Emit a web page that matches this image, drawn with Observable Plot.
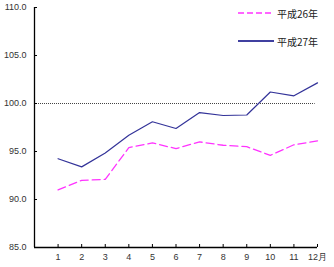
<!DOCTYPE html>
<html><head><meta charset="utf-8">
<script src="https://cdn.jsdelivr.net/npm/d3@7"></script>
<script src="https://cdn.jsdelivr.net/npm/@observablehq/plot@0.6"></script>
<style>
body{margin:0;background:#fff;}
#wrap{position:relative;width:334px;height:267px;}
#legend{position:absolute;left:238px;top:5px;font:10px "Noto Sans CJK JP",sans-serif;color:#222;}
.row{display:flex;align-items:center;height:16px;margin-bottom:12px;}
.row svg{margin-right:3px;}
</style></head>
<body><div id="wrap"><div id="legend"></div></div>
<script>
const months = [1,2,3,4,5,6,7,8,9,10,11,12];
const monthLabels = ["1","2","3","4","5","6","7","8","9","10","11","12月"];
const h26 = [91.0, 92.0, 92.1, 95.4, 95.9, 95.3, 96.0, 95.65, 95.5, 94.6, 95.7, 96.1];
const h27 = [94.25, 93.4, 94.85, 96.7, 98.1, 97.4, 99.05, 98.75, 98.8, 101.2, 100.8, 102.15];
const seriesNames = ["平成26年", "平成27年"];
const yTicks = [85, 90, 95, 100, 105, 110];
const baseline = 100;

const d26 = months.map((m,i)=>({m, v:h26[i]}));
const d27 = months.map((m,i)=>({m, v:h27[i]}));
const c26 = "#ff33ff", c27 = "#333399";

const chart = Plot.plot({
  width: 334, height: 267,
  marginLeft: 34, marginRight: 17, marginTop: 7, marginBottom: 20,
  style: {fontFamily: "Liberation Sans, Arial, sans-serif", fontSize: "9px", color: "#333", background: "#fff"},
  x: {domain: [0, 12]},
  y: {domain: [85, 110]},
  marks: [
    Plot.ruleY([baseline], {x1: 0, x2: 11.9, stroke: "#444", strokeDasharray: "1,1", strokeWidth: 1}),
    Plot.line(d26, {x: "m", y: "v", stroke: c26, strokeWidth: 1.3, strokeDasharray: "8,4"}),
    Plot.line(d27, {x: "m", y: "v", stroke: c27, strokeWidth: 1.2}),
    Plot.axisY({ticks: yTicks, tickSize: 0, tickPadding: 8, tickFormat: d => d.toFixed(1), label: null, fill: "#333"}),
    Plot.axisY({ticks: yTicks, tickSize: -3, text: null, label: null, stroke: "#000"}),
    Plot.axisX({ticks: months, tickSize: -3, tickPadding: 9, tickFormat: (d,i) => monthLabels[months.indexOf(d)], label: null, stroke: "#000"}),
    Plot.ruleX([0], {stroke: "#000", strokeWidth: 1.3}),
    Plot.ruleY([85], {stroke: "#000", strokeWidth: 1.3})
  ]
});
document.getElementById("wrap").prepend(chart);

const lg = document.getElementById("legend");
[[seriesNames[0], c26, "6,3"], [seriesNames[1], "#000080", null]].forEach(([name, col, dash]) => {
  const row = document.createElement("div"); row.className = "row";
  row.innerHTML = `<svg width="36" height="4"><line x1="0" x2="36" y1="2" y2="2" stroke="${col}" stroke-width="1.3" ${dash ? `stroke-dasharray="${dash}"` : ""}/></svg><span>${name}</span>`;
  lg.appendChild(row);
});
</script></body></html>
